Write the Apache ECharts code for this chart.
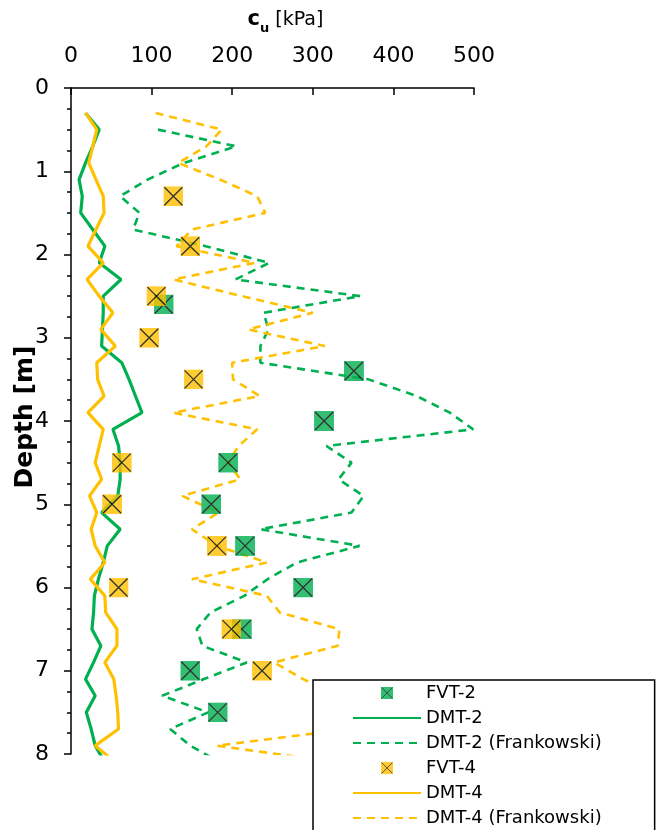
<!DOCTYPE html>
<html>
<head>
<meta charset="utf-8">
<script src="https://cdn.jsdelivr.net/npm/echarts@6/dist/echarts.min.js"></script>
<style>
  html, body { margin: 0; padding: 0; background: #fff; }
  #main { width: 656px; height: 830px; }
</style>
</head>
<body>
<div id="main"></div>
<script>
// depths of the DMT readings [m]
var dmtDepth = [0.3, 0.5, 0.7, 0.9, 1.1, 1.3, 1.5, 1.7, 1.9, 2.1, 2.3, 2.5, 2.7, 2.9, 3.1, 3.3, 3.5, 3.7, 3.9, 4.1,
                4.3, 4.5, 4.7, 4.9, 5.1, 5.3, 5.5, 5.7, 5.9, 6.1, 6.3, 6.5, 6.7, 6.9, 7.1, 7.3, 7.5, 7.7, 7.9, 8.1]
// DMT-2 cu [kPa]
var dmt2Cu = [18, 35, 27, 18, 10, 14, 12, 27, 42, 35, 62, 40, 40, 39, 38, 63, 72, 80, 88, 52,
              59, 61, 61, 58, 38, 61, 45, 40, 34, 29, 28, 26, 37, 28, 18, 30, 19, 25, 30, 42]
// DMT-4 cu [kPa]
var dmt4Cu = [18, 32, 27, 22, 31, 40, 41, 31, 21, 40, 20, 35, 52, 37, 55, 32, 33, 41, 21, 40,
              35, 30, 38, 23, 32, 25, 30, 42, 24, 42, 43, 57, 57, 42, 53, 56, 58, 59, 30, 55]
// DMT-2 (Frankowski) - starts at 0.5 m
var frank2Depth = [0.5, 0.7, 0.9, 1.1, 1.3, 1.5, 1.7, 1.9, 2.1, 2.3, 2.5, 2.7, 2.9, 3.1, 3.3, 3.5, 3.7, 3.9, 4.1,
                   4.3, 4.5, 4.7, 4.9, 5.1, 5.3, 5.5, 5.7, 5.9, 6.1, 6.3, 6.5, 6.7, 6.9, 7.1, 7.3, 7.5, 7.7, 7.9, 8.1]
var frank2Cu = [108, 205, 140, 95, 61, 85, 77, 167, 246, 204, 359, 239, 245, 235, 235, 369, 429, 470, 499,
                317, 348, 332, 363, 348, 235, 358, 280, 244, 215, 173, 156, 163, 218, 165, 113, 170, 123, 148, 185]
// DMT-4 (Frankowski)
var frank4Cu = [105, 187, 168, 133, 185, 231, 241, 150, 131, 228, 127, 212, 300, 220, 315, 200, 201, 234, 127, 231,
                208, 195, 210, 138, 183, 150, 181, 243, 150, 243, 259, 333, 331, 252, 288, 330, 360, 345, 181, 330]
// field vane tests
var fvt2Depth = [2.6, 3.4, 4.0, 4.5, 5.0, 5.5, 6.0, 6.5, 7.0, 7.5]
var fvt2Cu = [115, 351, 314, 195, 174, 216, 288, 212, 148, 182]
var fvt4Depth = [1.3, 1.9, 2.5, 3.0, 3.5, 4.5, 5.0, 5.5, 6.0, 6.5, 7.0]
var fvt4Cu = [127, 148, 106, 97, 152, 63, 51, 181, 59, 199, 237]

var xTicks = [0, 100, 200, 300, 400, 500]
var yTicks = [0, 1, 2, 3, 4, 5, 6, 7, 8]

var GREEN = '#00B050'
var YELLOW = '#FFC000'
var FONT = 'DejaVu Sans'

function pairs(xs, ys) {
    var out = []
    for (var i = 0; i < xs.length; i++) {
        out.push([xs[i], ys[i]])
    }
    return out
}

// square marker with a black cross
function boxCross(color) {
    var svg = "<svg xmlns='http://www.w3.org/2000/svg' width='40' height='40'>" +
        "<rect x='0' y='0' width='40' height='40' fill='" + color + "'/>" +
        "<path d='M2 2L38 38M38 2L2 38' stroke='#000' stroke-width='2.6'/></svg>"
    return 'image://data:image/svg+xml;charset=utf-8,' + encodeURIComponent(svg)
}

var myChart = echarts.init(document.getElementById('main'))

// line entries: hide the dot that echarts puts in the middle of the legend line
var noDot = { opacity: 0 }

var option = {
    animation: false,
    backgroundColor: '#fff',
    grid: { left: 71, top: 88, width: 403, height: 666, outerBoundsMode: 'none', containLabel: false },
    // y axis title (axis name kept getting pushed to the edge, so place it by hand)
    graphic: [{
        type: 'text',
        x: 25,
        y: 417,
        rotation: Math.PI / 2,
        style: {
            text: 'Depth [m]',
            fontFamily: FONT,
            fontWeight: 'bold',
            fontSize: 25,
            fill: '#000',
            align: 'center',
            verticalAlign: 'middle'
        }
    }],
    legend: {
        orient: 'vertical',
        left: 313,
        top: 680,
        height: 175,
        z: 20,
        backgroundColor: '#fff',
        borderColor: '#000',
        borderWidth: 1.5,
        padding: [3, 53, 12, 39],
        itemWidth: 68,
        itemHeight: 12,
        itemGap: 5,
        textStyle: { fontFamily: FONT, fontSize: 18, color: '#000', lineHeight: 20 },
        data: [
            'FVT-2',
            { name: 'DMT-2', itemStyle: noDot },
            { name: 'DMT-2 (Frankowski)', itemStyle: noDot },
            'FVT-4',
            { name: 'DMT-4', itemStyle: noDot },
            { name: 'DMT-4 (Frankowski)', itemStyle: noDot }
        ]
    },
    xAxis: {
        type: 'value',
        position: 'top',
        min: xTicks[0],
        max: xTicks[xTicks.length - 1],
        interval: 100,
        name: '{c|c}{u|u}{t|[kPa]}',
        nameLocation: 'middle',
        nameGap: 53,
        nameTextStyle: {
            padding: [0, 0, 0, 26],
            rich: {
                c: { fontFamily: FONT, fontWeight: 'bold', fontSize: 21, lineHeight: 30, color: '#000' },
                u: { fontFamily: FONT, fontWeight: 'bold', fontSize: 13, lineHeight: 18, verticalAlign: 'bottom', color: '#000' },
                t: { fontFamily: FONT, fontSize: 19, lineHeight: 30, padding: [0, 0, 0, 6], color: '#000' }
            }
        },
        axisLine: { lineStyle: { color: '#000', width: 1.5 } },
        axisTick: { inside: true, length: 7, lineStyle: { color: '#000', width: 1.5 } },
        axisLabel: { fontFamily: FONT, fontSize: 22, color: '#000', margin: 21 },
        splitLine: { show: false }
    },
    yAxis: {
        type: 'value',
        inverse: true,
        min: yTicks[0],
        max: yTicks[yTicks.length - 1],
        interval: 1,
        axisLine: { onZero: false, lineStyle: { color: '#000', width: 1.5 } },
        axisTick: { length: 7, lineStyle: { color: '#000', width: 1.5 } },
        minorTick: { show: true, splitNumber: 4, length: 4, lineStyle: { color: '#000', width: 1.5 } },
        axisLabel: { fontFamily: FONT, fontSize: 22, color: '#000', margin: 22 },
        splitLine: { show: false }
    },
    series: [{
        name: 'FVT-2',
        type: 'scatter',
        z: 5,
        symbol: boxCross(GREEN),
        symbolSize: 20,
        symbolKeepAspect: true,
        itemStyle: { color: GREEN },
        data: pairs(fvt2Cu, fvt2Depth)
    }, {
        name: 'DMT-2',
        type: 'line',
        symbol: 'none',
        lineStyle: { color: GREEN, width: 3.2 },
        itemStyle: { color: GREEN },
        data: pairs(dmt2Cu, dmtDepth)
    }, {
        name: 'DMT-2 (Frankowski)',
        type: 'line',
        symbol: 'none',
        lineStyle: { color: GREEN, width: 2.6, type: [8, 6] },
        itemStyle: { color: GREEN },
        data: pairs(frank2Cu, frank2Depth)
    }, {
        name: 'FVT-4',
        type: 'scatter',
        z: 6,
        symbol: boxCross(YELLOW),
        symbolSize: 20,
        symbolKeepAspect: true,
        itemStyle: { color: YELLOW },
        data: pairs(fvt4Cu, fvt4Depth)
    }, {
        name: 'DMT-4',
        type: 'line',
        symbol: 'none',
        lineStyle: { color: YELLOW, width: 3.2 },
        itemStyle: { color: YELLOW },
        data: pairs(dmt4Cu, dmtDepth)
    }, {
        name: 'DMT-4 (Frankowski)',
        type: 'line',
        symbol: 'none',
        lineStyle: { color: YELLOW, width: 2.6, type: [8, 6] },
        itemStyle: { color: YELLOW },
        data: pairs(frank4Cu, dmtDepth)
    }]
}

myChart.setOption(option)
</script>
</body>
</html>
